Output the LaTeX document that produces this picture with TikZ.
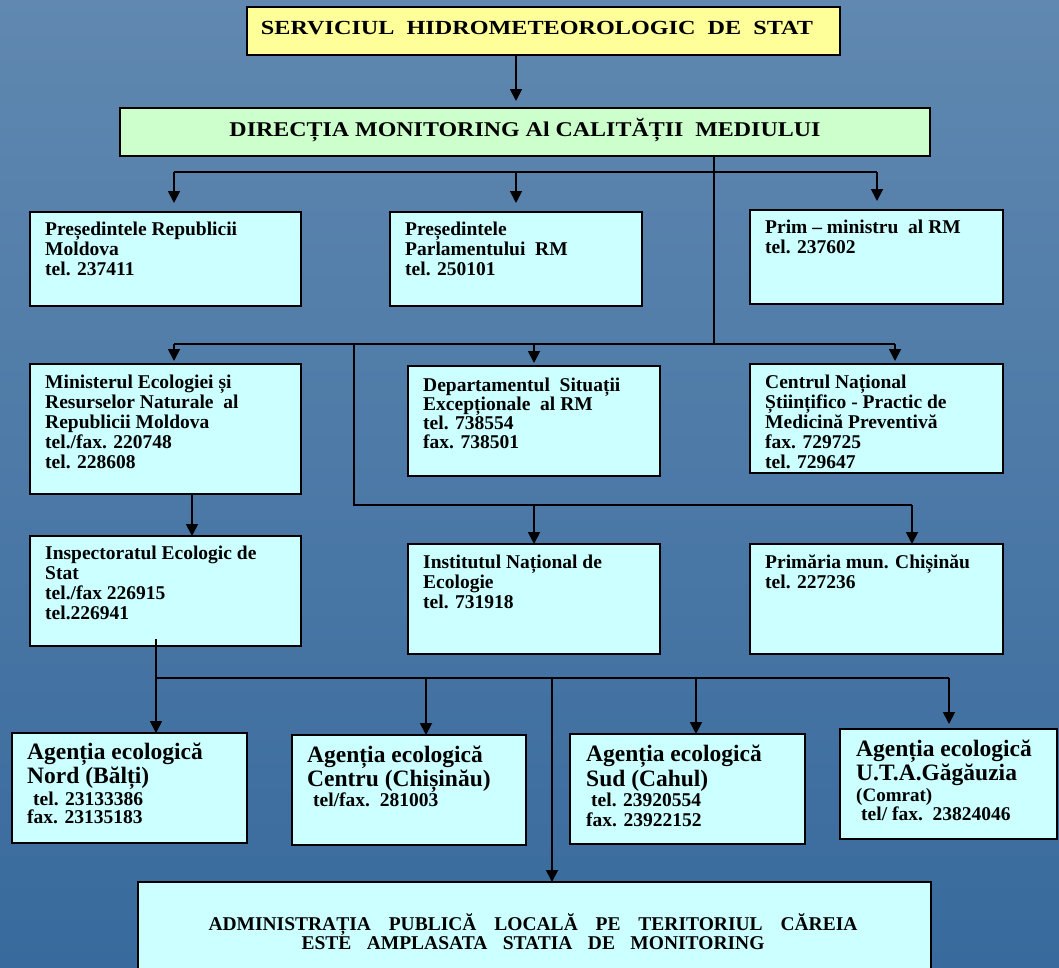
\documentclass[tikz,border=0pt]{standalone}
\usepackage{fontspec}
\setmainfont{Liberation Serif}
\usetikzlibrary{arrows.meta}
\definecolor{bgtop}{RGB}{96,136,176}
\definecolor{bgbot}{RGB}{56,106,157}
\definecolor{boxcyan}{RGB}{204,255,255}
\definecolor{boxyellow}{RGB}{255,255,153}
\definecolor{boxgreen}{RGB}{204,255,204}
\tikzset{
  box/.style={draw=black, line width=1.8pt, fill=boxcyan, rectangle, inner sep=0pt, outer sep=0pt},
  ln/.style={draw=black, line width=1.8pt},
  arr/.style={ln, -{Triangle[width=12pt,length=12pt]}},
  txt/.style={anchor=base west, inner sep=0pt, font=\bfseries\fontsize{19.5}{20}\selectfont},
  big/.style={anchor=base west, inner sep=0pt, font=\bfseries\fontsize{23.5}{24}\selectfont},
  small/.style={anchor=base west, inner sep=0pt, font=\bfseries\fontsize{19.5}{20}\selectfont},
}
\newcommand\blk[2]{\parbox[t]{#1}{\raggedright #2}}
\begin{document}
\begin{tikzpicture}[x=1pt,y=-1pt]
\clip (0,0) rectangle (1059,967);
\shade[top color=bgtop, bottom color=bgbot] (0,0) rectangle (1059,967);

% boxes
\node[box, fill=boxyellow, minimum width=593pt, minimum height=48pt] (serv) at (543.5,31) {};
\node[box, fill=boxgreen, minimum width=810pt, minimum height=48pt] (dir) at (525,132) {};
\node[box, minimum width=271pt, minimum height=94pt] (presrm) at (165.5,259) {};
\node[box, minimum width=252pt, minimum height=94pt] (presparl) at (516,259) {};
\node[box, minimum width=253pt, minimum height=94pt] (prim) at (876.5,257) {};
\node[box, minimum width=271pt, minimum height=130pt] (min) at (165.5,429) {};
\node[box, minimum width=252pt, minimum height=110pt] (dep) at (534,421) {};
\node[box, minimum width=253pt, minimum height=109pt] (cent) at (876.5,418.5) {};
\node[box, minimum width=271pt, minimum height=110pt] (insp) at (165.5,591) {};
\node[box, minimum width=252pt, minimum height=110pt] (inst) at (534,599) {};
\node[box, minimum width=253pt, minimum height=110pt] (prima) at (876.5,599) {};
\node[box, minimum width=235pt, minimum height=110pt] (nord) at (129.5,788) {};
\node[box, minimum width=234pt, minimum height=110pt] (centru) at (409,790) {};
\node[box, minimum width=235pt, minimum height=110pt] (sud) at (687.5,789) {};
\node[box, minimum width=217pt, minimum height=110pt] (gag) at (948.5,784) {};
\node[box, minimum width=793pt, minimum height=118pt] (admin) at (534.5,941) {};

% titles
\node[anchor=base, inner sep=0pt] (servT) at (537,34)
  {\resizebox{552pt}{\height}{\bfseries\fontsize{20}{20}\selectfont SERVICIUL\ \ HIDROMETEOROLOGIC\ \ DE\ \ STAT}};
\node[anchor=base, inner sep=0pt] (dirT) at (525,136)
  {\resizebox{591pt}{\height}{\bfseries\fontsize{21}{21}\selectfont DIRECȚIA MONITORING Al CALITĂȚII\ \ MEDIULUI}};

% box texts
\node[txt] (presrmT) at (45,235) {\blk{250pt}{Președintele Republicii\\Moldova\\tel. 237411}};
\node[txt] (presparlT) at (405,235) {\blk{235pt}{Președintele\\Parlamentului\ \ RM\\tel. 250101}};
\node[txt] (primT) at (765,233) {\blk{235pt}{Prim – ministru\ \ al RM\\tel. 237602}};
\node[txt] (minT) at (45,388) {\blk{250pt}{Ministerul Ecologiei și\\Resurselor Naturale\ \ al\\Republicii Moldova\\tel./fax. 220748\\tel. 228608}};
\node[txt, font=\bfseries\fontsize{19.5}{19}\selectfont] (depT) at (423,391) {\blk{235pt}{Departamentul\ \ Situații\\Excepționale\ \ al RM\\tel. 738554\\fax. 738501}};
\node[txt] (centT) at (765,388) {\blk{235pt}{Centrul Național\\Științifico - Practic de\\Medicină Preventivă\\fax. 729725\\tel. 729647}};
\node[txt] (inspT) at (45,559) {\blk{250pt}{Inspectoratul Ecologic de\\Stat\\tel./fax 226915\\tel.226941}};
\node[txt] (instT) at (423,568) {\blk{235pt}{Institutul Național de\\Ecologie\\tel. 731918}};
\node[txt] (primaT) at (765,568) {\blk{235pt}{Primăria mun. Chișinău\\tel. 227236}};

\node[big] (nordA) at (27,759) {Agenția ecologică};
\node[big] (nordB) at (27,783) {Nord (Bălți)};
\node[small] (nordC) at (33,805) {tel. 23133386};
\node[small] (nordD) at (27,823) {fax. 23135183};

\node[big] (centruA) at (307,762) {Agenția ecologică};
\node[big] (centruB) at (307,786) {Centru (Chișinău)};
\node[small] (centruC) at (313,806) {tel/fax.\ \ 281003};

\node[big] (sudA) at (586,761) {Agenția ecologică};
\node[big] (sudB) at (586,786) {Sud (Cahul)};
\node[small] (sudC) at (591,806) {tel. 23920554};
\node[small] (sudD) at (586,826) {fax. 23922152};

\node[big] (gagA) at (856,756) {Agenția ecologică};
\node[big] (gagB) at (856,780) {U.T.A.Găgăuzia};
\node[small, font=\bfseries\fontsize{19}{19}\selectfont] (gagC) at (856,801) {(Comrat)};
\node[small] (gagD) at (861,820) {tel/ fax.\ \ 23824046};

\node[anchor=base, inner sep=0pt, font=\bfseries\fontsize{19.5}{19}\selectfont] (adminA) at (533,930)
  {\makebox[649pt][s]{ADMINISTRAȚIA PUBLICĂ LOCALĂ PE TERITORIUL CĂREIA}};
\node[anchor=base, inner sep=0pt, font=\bfseries\fontsize{19.5}{19}\selectfont] (adminB) at (533,949)
  {\makebox[463pt][s]{ESTE AMPLASATA STATIA DE MONITORING}};

% connectors
\coordinate (sd) at (516,0);
\draw[arr, shorten >=7pt] (serv.south -| sd) -- (dir.north -| sd);

\coordinate (j1) at (714,172);
\coordinate (j2) at (714,344);
\draw[ln] (dir.south -| j1) -- (j2);
\coordinate (bus1L) at (174,172);
\coordinate (bus1R) at (877,172);
\draw[ln] (bus1L) -- (bus1R);
\draw[arr, shorten >=9pt] (bus1L) -- (bus1L |- presrm.north);
\draw[arr, shorten >=9pt] (presparl.north |- bus1L) -- (presparl.north);
\draw[arr, shorten >=9pt] (bus1R) -- (bus1R |- prim.north);

\coordinate (bus2L) at (174,344);
\coordinate (bus2R) at (895,344);
\draw[ln] (bus2L) -- (bus2R);
\draw[arr, shorten >=3pt] (bus2L) -- (bus2L |- min.north);
\draw[arr, shorten >=3pt] (dep.north |- bus2L) -- (dep.north);
\draw[arr, shorten >=3pt] (bus2R) -- (bus2R |- cent.north);

\coordinate (br1) at (354,344);
\coordinate (br2) at (354,505);
\coordinate (br3) at (912,505);
\draw[ln] (br1) -- (br2) -- (br3);
\draw[arr] (inst.north |- br2) -- (inst.north);
\draw[arr] (br3) -- (br3 |- prima.north);

\coordinate (mi) at (192,0);
\draw[arr] (min.south -| mi) -- (insp.north -| mi);

\coordinate (b3L) at (156,678);
\coordinate (b3R) at (949,678);
\coordinate (c3a) at (426,678);
\coordinate (c3b) at (552,678);
\coordinate (c3c) at (696,678);
\draw[arr] ([yshift=7pt]insp.south -| b3L) -- (b3L |- nord.north);
\draw[ln] (b3L) -- (b3R);
\draw[arr] (c3a) -- (c3a |- centru.north);
\draw[arr] (c3b) -- (c3b |- admin.north);
\draw[arr] (c3c) -- (c3c |- sud.north);
\draw[arr, shorten >=5pt] (b3R) -- (b3R |- gag.north);
\end{tikzpicture}
\end{document}
